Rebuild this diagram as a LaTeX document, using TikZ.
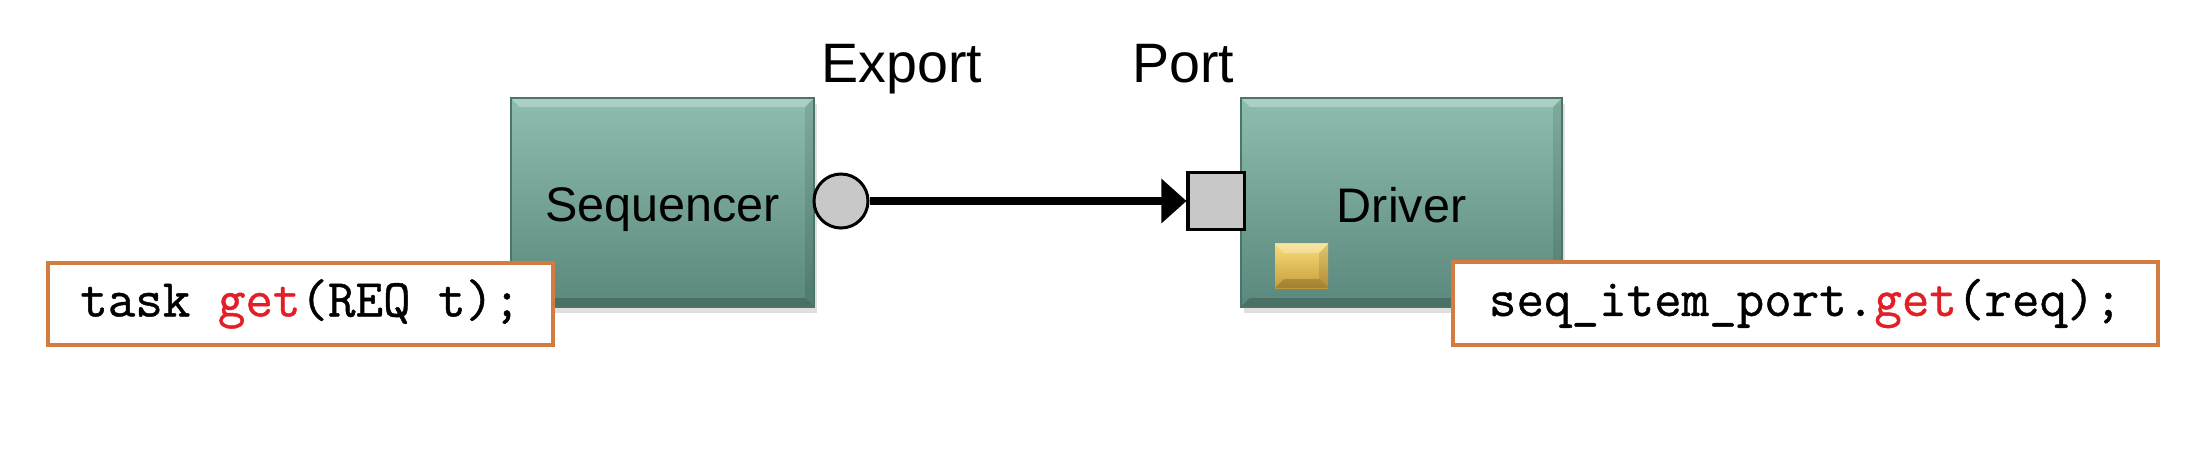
\documentclass[tikz,border=0pt]{standalone}
\usepackage{fontspec}
\setmainfont{Liberation Sans}
\newfontfamily\codefont{Latin Modern Mono}[FakeBold=0.8]
\usetikzlibrary{arrows.meta,positioning,shadows}

\definecolor{tealtop}{RGB}{142,190,176}
\definecolor{tealbot}{RGB}{90,136,124}
\definecolor{codeframe}{RGB}{210,124,66}
\definecolor{getred}{RGB}{226,30,38}
\definecolor{portgray}{RGB}{200,200,200}
\definecolor{goldtop}{RGB}{248,220,124}
\definecolor{goldbot}{RGB}{198,158,58}

\newcommand{\bevelfill}{%
    \fill[white,opacity=0.28] (path picture bounding box.north west) -- (path picture bounding box.north east)
        -- ([xshift=-0.09cm,yshift=-0.09cm]path picture bounding box.north east)
        -- ([xshift=0.09cm,yshift=-0.09cm]path picture bounding box.north west) -- cycle;
    \fill[black,opacity=0.18] (path picture bounding box.south west) -- (path picture bounding box.south east)
        -- ([xshift=-0.09cm,yshift=0.09cm]path picture bounding box.south east)
        -- ([xshift=0.09cm,yshift=0.09cm]path picture bounding box.south west) -- cycle;
    \fill[black,opacity=0.10] (path picture bounding box.north east) -- (path picture bounding box.south east)
        -- ([xshift=-0.09cm,yshift=0.09cm]path picture bounding box.south east)
        -- ([xshift=-0.09cm,yshift=-0.09cm]path picture bounding box.north east) -- cycle;
}

\tikzset{
    compbox/.style={minimum height=2.09cm, top color=tealtop, bottom color=tealbot,
        draw=tealbot!85!black, line width=0.4pt, font=\fontsize{13.8}{16}\selectfont,
        text depth=0pt, path picture={\bevelfill},
        drop shadow={shadow xshift=0.03cm, shadow yshift=-0.06cm, opacity=0.25}},
    codebox/.style={draw=codeframe, line width=0.04cm, fill=white, inner sep=0pt,
        minimum height=0.82cm, font=\codefont\fontsize{15.2}{18}\selectfont},
    portlabel/.style={anchor=base, font=\fontsize{15.8}{18}\selectfont},
    pin/.style={draw=black, line width=0.03cm, fill=portgray, inner sep=0pt},
}

\begin{document}
\begin{tikzpicture}[x=0.01cm, y=-0.01cm]
    \useasboundingbox (0,0) rectangle (2206,454);

    % sequencer side
    \node[compbox, minimum width=3.03cm] (seq) at (662.5,202.5) {\raisebox{-0.05cm}{Sequencer}};
    \node[pin, circle, minimum size=0.54cm] (export) at (841,201) {};
    \node[codebox, minimum width=5.05cm] (seqcode) at (300.5,304) {task \textcolor{getred}{get}(REQ t);};

    % driver side
    \node[compbox, minimum width=3.21cm] (drv) at (1401.5,202.5) {\raisebox{-0.05cm}{Driver}};
    \node[pin, rectangle, minimum width=0.56cm, minimum height=0.57cm] (port) at (1216,201) {};
    \node[top color=goldtop, bottom color=goldbot, minimum width=0.53cm, minimum height=0.44cm,
        inner sep=0pt, path picture={\bevelfill},
        drop shadow={shadow xshift=0.02cm, shadow yshift=-0.03cm, opacity=0.3}] (fifo) at (1301.5,266) {};
    \node[codebox, minimum width=7.05cm] (drvcode) at (1805.5,303.5) {seq\_item\_port.\textcolor{getred}{get}(req);};

    % labels
    \node[portlabel] (exportlbl) at (902,82) {Export};
    \node[portlabel] (portlbl) at (1183,82) {Port};

    % connection
    \draw[line width=0.08cm, -{Triangle[length=0.25cm, width=0.43cm]}] (export.east) -- (port.west);
\end{tikzpicture}
\end{document}
